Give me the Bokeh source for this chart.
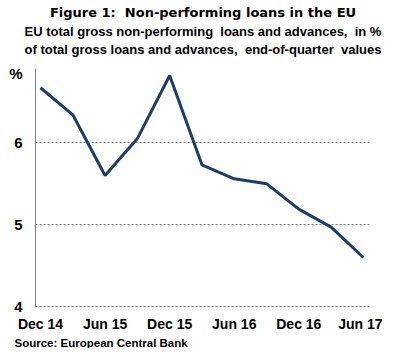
from bokeh.plotting import figure
from bokeh.models import Title, FixedTicker, Range1d
from bokeh.embed import file_html
from bokeh.resources import INLINE

quarters = ["Dec 14", "Mar 15", "Jun 15", "Sep 15", "Dec 15", "Mar 16",
            "Jun 16", "Sep 16", "Dec 16", "Mar 17", "Jun 17"]
npl_ratio = [6.67, 6.34, 5.60, 6.05, 6.82, 5.73, 5.56, 5.50, 5.19, 4.97, 4.60]
y_ticks = [4, 5, 6]
unit_pos = 6.84
x_tick_labels = ["Dec 14", "Jun 15", "Dec 15", "Jun 16", "Dec 16", "Jun 17"]

FONT = "Liberation Sans"
NB = "\u00a0"
xs = list(range(len(quarters)))

p = figure(frame_width=335, frame_height=239, output_backend="svg",
           toolbar_location=None, x_range=Range1d(-0.155, 10.22),
           y_range=Range1d(3.99, 6.905), min_border_left=35, min_border_right=12,
           min_border_top=0, min_border_bottom=0)
p.outline_line_color = None
p.background_fill_color = "white"
p.border_fill_color = "white"

p.line(xs, npl_ratio, line_color="#1F3D6B", line_width=3)

tick_pos = [quarters.index(q) for q in x_tick_labels]
p.xaxis.ticker = FixedTicker(ticks=tick_pos)
p.xaxis.major_label_overrides = {i: q for i, q in zip(tick_pos, x_tick_labels)}
p.xaxis.axis_line_color = None
p.xaxis.major_tick_line_color = None
p.xaxis.minor_tick_line_color = None
p.xaxis.major_tick_out = 0
p.xaxis.major_label_standoff = 8
p.xaxis.major_label_text_font = FONT
p.xaxis.major_label_text_font_style = "bold"
p.xaxis.major_label_text_font_size = "14px"
p.xaxis.major_label_text_color = "black"
p.xgrid.grid_line_color = None

p.yaxis.ticker = FixedTicker(ticks=y_ticks + [unit_pos])
p.yaxis.major_label_overrides = {unit_pos: "%"}
p.yaxis.axis_line_color = "#808080"
p.yaxis.axis_line_width = 1
p.yaxis.major_tick_line_color = None
p.yaxis.major_tick_out = 5
p.yaxis.major_tick_in = 0
p.yaxis.minor_tick_line_color = None
p.yaxis.major_label_standoff = 8
p.yaxis.major_label_text_font = FONT
p.yaxis.major_label_text_font_style = "bold"
p.yaxis.major_label_text_font_size = "15px"
p.yaxis.major_label_text_color = "black"
p.ygrid.ticker = FixedTicker(ticks=y_ticks)
p.ygrid.grid_line_color = "#808080"
p.ygrid.grid_line_dash = "2 2"
p.ygrid.grid_line_width = 1

def add_title(text, size, place, align="center", offset=0, standoff=0, font=FONT):
    t = Title(text=text, align=align, text_font=font, text_font_style="bold",
              text_font_size=size, text_color="black", offset=offset,
              standoff=standoff)
    p.add_layout(t, place)

add_title(" ", "1px", "above", standoff=8)
add_title("of total gross loans and advances," + NB + " end-of-quarter" + NB + " values",
          "13px", "above", standoff=2)
add_title("EU total gross non-performing" + NB + " loans and advances," + NB + " in %",
          "13px", "above")
add_title("Figure 1:" + NB + " Non-performing loans in the EU", "13px", "above",
          font="DejaVu Sans", standoff=4)
add_title("Source: European Central Bank", "11.5px", "below", align="left", offset=-21)

open("out.html", "w").write(file_html(p, INLINE))
